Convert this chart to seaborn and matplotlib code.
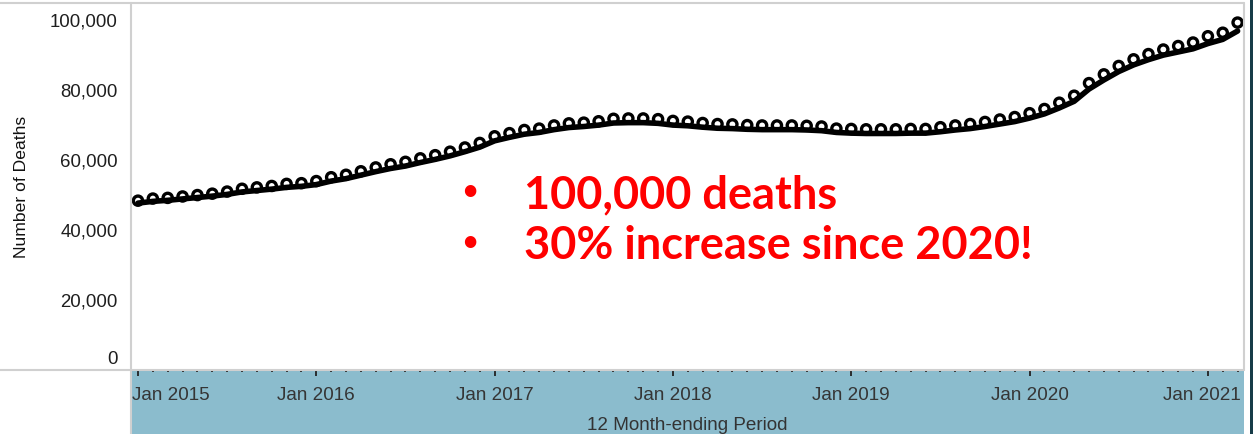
import matplotlib
matplotlib.use("Agg")
import matplotlib.pyplot as plt
import pandas as pd
import seaborn as sns
from matplotlib.patches import Rectangle
from matplotlib.lines import Line2D
from matplotlib.transforms import ScaledTranslation

# 12 month-ending periods, Jan 2015 .. Mar 2021 (index in months)
month_index = list(range(75))

# Predicted provisional counts (open circles)
predicted = [
    48400, 49000, 49200, 49600, 50000, 50400, 51000, 51800, 52200, 52600, 53200, 53400,
    54000, 55100, 55800, 56800, 57900, 58800, 59500, 60500, 61400, 62400, 63600, 64900,
    66800, 67700, 68600, 69000, 69900, 70500, 70700, 71100, 71800, 71900, 71900, 71700,
    71200, 71000, 70600, 70300, 70200, 70000, 69900, 69900, 69900, 69800, 69600, 69000,
    68900, 68800, 68800, 68800, 68900, 68900, 69400, 69900, 70300, 70900, 71600, 72300,
    73400, 74600, 76400, 78400, 82000, 84500, 86900, 88800, 90300, 91600, 92600, 93600,
    95400, 96400, 99300,
]

# Reported provisional counts (solid line)
reported = [
    47700, 48200, 48500, 48900, 49300, 49700, 50200, 50900, 51300, 51700, 52200, 52500,
    53000, 54000, 54700, 55700, 56700, 57600, 58300, 59300, 60200, 61200, 62400, 63700,
    65500, 66500, 67400, 67900, 68700, 69300, 69600, 70000, 70600, 70700, 70700, 70500,
    70000, 69800, 69400, 69100, 69000, 68800, 68700, 68700, 68700, 68600, 68400, 67900,
    67700, 67600, 67600, 67600, 67700, 67700, 68100, 68600, 69000, 69600, 70300, 71000,
    72000, 73200, 74900, 76800, 80300, 82900, 85300, 87200, 88700, 90000, 90900, 91800,
    93300, 94500, 96900,
]

year_ticks = [0, 12, 24, 36, 48, 60, 72]
year_labels = ["Jan 2015", "Jan 2016", "Jan 2017", "Jan 2018", "Jan 2019", "Jan 2020", "Jan 2021"]
y_ticks = [0, 20000, 40000, 60000, 80000, 100000]
y_tick_labels = ["0", "20,000", "40,000", "60,000", "80,000", "100,000"]
callouts = ["100,000 deaths", "30% increase since 2020!"]

sns.set_style("white")
plt.rcParams["font.family"] = ["Liberation Sans", "DejaVu Sans"]

W, H = 1253, 434
fig = plt.figure(figsize=(W / 100, H / 100), dpi=100)
fig.patch.set_facecolor("white")

# plot area in pixels
L, R, T, B = 131, 1244, 3, 370
ax = fig.add_axes([L / W, 1 - B / H, (R - L) / W, (B - T) / H])
ax.set_facecolor("white")

df = pd.DataFrame({"month": month_index, "reported": reported, "predicted": predicted})

sns.lineplot(data=df, x="month", y="reported", color="black", linewidth=4.0,
             ax=ax, zorder=3, solid_capstyle="round")
sns.scatterplot(data=df, x="month", y="predicted", marker="o", s=44, ax=ax, zorder=4)
pts = ax.collections[-1]
pts.set_facecolor("none")
pts.set_edgecolor("black")
pts.set_linewidth(2.4)

ax.set_xlim(-0.47, 74.43)
ax.set_ylim(0, 104900)

# x axis: yearly major ticks, monthly minor dots
ax.set_xticks(year_ticks)
ax.set_xticklabels(year_labels)
ax.set_xticks([m for m in month_index if m % 12 != 0], minor=True)
ax.tick_params(axis="x", which="both", bottom=True)
ax.tick_params(axis="x", which="major", direction="out", length=4, width=1.3,
               color="#222222", pad=8, labelsize=13.6, labelcolor="#353535")
ax.tick_params(axis="x", which="minor", direction="out", length=1.4, width=1.4,
               color="#333333")

xl = ax.get_xticklabels()
xl[0].set_horizontalalignment("left")
xl[0].set_transform(xl[0].get_transform() + ScaledTranslation(-0.06, 0, fig.dpi_scale_trans))
xl[-1].set_transform(xl[-1].get_transform() + ScaledTranslation(-0.06, 0, fig.dpi_scale_trans))

# y axis
ax.set_yticks(y_ticks)
ax.set_yticklabels(y_tick_labels)
ax.tick_params(axis="y", length=0, pad=9.5, labelsize=13.4, labelcolor="#1e1e1e")
yl = ax.get_yticklabels()
yl[0].set_transform(yl[0].get_transform() + ScaledTranslation(0, 0.12, fig.dpi_scale_trans))

ax.set_ylabel("Number of Deaths", fontsize=12.6, color="#111111")
ax.yaxis.set_label_coords(-0.098, 0.5)
ax.yaxis.label.set_verticalalignment("center")

ax.set_xlabel("12 Month-ending Period", fontsize=13.6, color="#333333")
ax.xaxis.set_label_coords(0.5, -0.15)
ax.xaxis.label.set_verticalalignment("center")

for side in ["left", "top", "right", "bottom"]:
    ax.spines[side].set_visible(False)

# blue header band under the date axis
fig.add_artist(Rectangle((L / W, 0), (R - L) / W, (H - B - 1) / H,
                         transform=fig.transFigure, facecolor="#8bbccd",
                         edgecolor="none", zorder=-2))
# dark edge strip on the right
fig.add_artist(Rectangle((1250 / W, 0), 3 / W, 1, transform=fig.transFigure,
                         facecolor="#173c48", edgecolor="none", zorder=-2))

# light grey frame lines
grey = "#d0d0d0"
fig.add_artist(Line2D([0, R / W], [1 - T / H, 1 - T / H], color=grey, lw=1.5,
                      transform=fig.transFigure, zorder=5))
fig.add_artist(Line2D([0, R / W], [1 - B / H, 1 - B / H], color=grey, lw=1.5,
                      transform=fig.transFigure, zorder=5))
fig.add_artist(Line2D([L / W, L / W], [0, 1 - T / H], color=grey, lw=1.5,
                      transform=fig.transFigure, zorder=5))
fig.add_artist(Line2D([R / W, R / W], [1 - B / H, 1 - T / H], color=grey, lw=1.5,
                      transform=fig.transFigure, zorder=5))

# red call-outs
red = "#ff0000"
for text, base in zip(callouts, [208, 259]):
    fig.text(470 / W, 1 - (base - 9) / H, "\u2022", color=red, fontsize=19,
             fontfamily="Lato", fontweight="bold", ha="center", va="baseline")
    fig.text(524 / W, 1 - base / H, text, color=red, fontsize=32.5,
             fontfamily="Lato", fontweight="bold", ha="left", va="baseline")

fig.savefig("out.png", dpi=100, facecolor="white")
